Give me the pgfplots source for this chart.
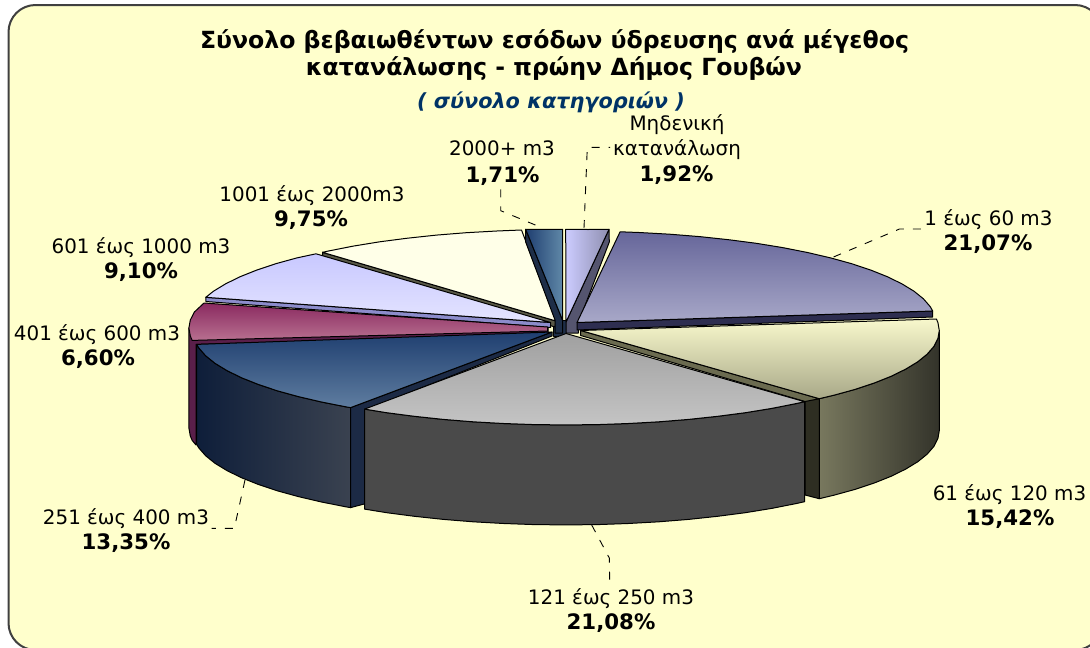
\documentclass[border=0pt]{standalone}
\usepackage{fontspec}
\setmainfont{DejaVu Sans}
\usepackage{pgfplots}
\pgfplotsset{compat=1.18}
\definecolor{bgc}{HTML}{FFFFCC}
\definecolor{subc}{HTML}{003366}
\definecolor{w6a}{HTML}{C8C8FF}\definecolor{w6b}{HTML}{E4E4FF}
\definecolor{w5a}{HTML}{8A2A60}\definecolor{w5b}{HTML}{B87090}\definecolor{w5s}{HTML}{5A1F4A}
\definecolor{w4a}{HTML}{1F3F70}\definecolor{w4b}{HTML}{5F7DA0}\definecolor{w4l}{HTML}{0E1E3A}\definecolor{w4r}{HTML}{3A4250}\definecolor{w4c}{HTML}{1C2A45}
\definecolor{w3a}{HTML}{A0A0A0}\definecolor{w3b}{HTML}{C4C4C4}\definecolor{w3s}{HTML}{4A4A4A}
\definecolor{w2a}{HTML}{F8F8CC}\definecolor{w2b}{HTML}{A8A888}\definecolor{w2l}{HTML}{78785E}\definecolor{w2r}{HTML}{33332A}\definecolor{w2c}{HTML}{6B6B50}\definecolor{w2d}{HTML}{2E2E22}
\definecolor{w1a}{HTML}{66669A}\definecolor{w1b}{HTML}{A8A8C8}\definecolor{w1s}{HTML}{2E2E50}
\definecolor{w0a}{HTML}{CCCCFF}\definecolor{w0b}{HTML}{8F8FB0}\definecolor{w0s}{HTML}{55556F}
\definecolor{w8a}{HTML}{1F3F70}\definecolor{w8b}{HTML}{6088A8}\definecolor{w8s}{HTML}{1E2E48}
\tikzset{
  w/.style={draw=black,line width=1pt,line join=round},
  lead/.style={draw=black,line width=0.9pt,dash pattern=on 8pt off 9pt},
  lab/.style={anchor=base,font=\fontsize{19.9}{22}\selectfont,inner sep=0pt},
  labb/.style={anchor=base,font=\fontsize{21.3}{22}\selectfont\bfseries,inner sep=0pt}
}
\begin{document}
\begin{tikzpicture}
\useasboundingbox (0,0) rectangle (1090pt,648pt);
\begin{axis}[at={(0,0)},anchor=south west,scale only axis,width=1090pt,height=648pt,
  xmin=0,xmax=1090,ymin=0,ymax=648,y dir=reverse,hide axis,clip=true]
% background
\addplot[draw=black!75,line width=2pt,fill=bgc,rounded corners=27pt] coordinates {(8.5,5)(1102,5)(1102,650)(8.5,650)} -- cycle;
% leaders
\addplot[lead] coordinates {(584,228)(587.3,147.3)(610,147.3)};
\addplot[lead] coordinates {(500.7,189.3)(500.7,210.7)(543.3,228.3)};
\addplot[lead] coordinates {(833.5,257)(899.5,229)(922,229)};
\addplot[lead] coordinates {(245,480)(234.3,528.3)(211.7,528.3)};
\addplot[lead] coordinates {(591.7,525)(609.3,558)(609.7,581.7)};
% centre
\addplot[w,fill=w8s] coordinates {(553,320)(566,320)(566,336)(553,336)} -- cycle;
% W7 1001-2000
\addplot[w,fill=black!65!bgc] coordinates {(322.5,252.3)(322.5,256)(555,327)(556,321)} -- cycle;
\addplot[w,fill=white!55!bgc] coordinates {(322.5,252.3)(328.5,251)(353.3,246.1)(379.7,241.8)(407.4,238.2)(436.4,235.1)(466.2,232.7)(496.7,231)(521.5,230)(556,321)} -- cycle;
% W8 2000+
\addplot[w,fill=w8s] coordinates {(525.7,229.3)(562.7,320.5)(562.7,333)(555,333)(555,320)(525.7,242)} -- cycle;
\addplot[w,left color=w8a,right color=w8b] coordinates {(525.7,229.3)(562.7,229.3)(562.7,320.5)} -- cycle;
% W0 zero consumption
\addplot[w,fill=w0s] coordinates {(609,229.3)(609.3,242)(578.3,323)(578.3,333)(566,333)(566,322)} -- cycle;
\addplot[w,left color=w0a,right color=w0b] coordinates {(565.7,229.3)(587.9,229.5)(609,229.3)(566,322)} -- cycle;
% W6 601-1000
\addplot[w,fill=black!45!blue!45!white] coordinates {(205.8,297.3)(205.8,301.5)(550.5,327.5)(550.5,322.5)} -- cycle;
\addplot[w,top color=w6a,bottom color=w6b] coordinates {(205.8,297.3)(213.5,291.2)(225.5,283.9)(239.9,276.8)(256.7,270.1)(275.8,263.7)(296.9,257.9)(316,253.8)(550.5,322.5)} -- cycle;
% W5 401-600
\addplot[w,fill=w5s] coordinates {(188.9,328)(188.9,428)(190.3,436)(192.2,440.4)(196,445)(196,344.4)(548,334)(548,328)} -- cycle;
\addplot[w,top color=w5a,bottom color=w5b] coordinates {(204,303)(194.3,312.1)(190.3,320)(188.9,328)(190.3,336)(192.2,340.4)(547.5,331)(547.5,327)} -- cycle;
% W4 251-400
\addplot[w,left color=w4l,right color=w4r] coordinates {(196.7,344.4)(198.8,347.9)(205.6,355.7)(215,363.3)(227,370.6)(241.4,377.7)(258.2,384.4)(277.3,390.8)(298.4,396.6)(321.5,402)(346.3,406.9)(350.6,407.6)(350.6,507.6)(346.3,506.9)(321.5,502)(298.4,496.6)(277.3,490.8)(258.2,484.4)(241.4,477.7)(227,470.6)(215,463.3)(205.6,455.7)(198.8,447.9)(196.7,444.4)} -- cycle;
\addplot[w,fill=w4c] coordinates {(350.6,407.6)(350.6,507.6)(368,503)(368,409)(552,336)(552,332)} -- cycle;
\addplot[w,top color=w4a,bottom color=w4b] coordinates {(196.7,344.4)(198.8,347.9)(205.6,355.7)(215,363.3)(227,370.6)(241.4,377.7)(258.2,384.4)(277.3,390.8)(298.4,396.6)(321.5,402)(346.3,406.9)(350.6,407.6)(552,332)} -- cycle;
% W1 1-60
\addplot[w,fill=w1s] coordinates {(932.7,311)(932.7,317)(577,330)(577,322.5)} -- cycle;
\addplot[w,top color=w1a,bottom color=w1b] coordinates {(620.1,231.8)(639.3,232.5)(669.8,234.2)(699.6,236.6)(728.6,239.7)(756.3,243.3)(782.7,247.6)(807.5,252.5)(830.6,257.9)(851.7,263.7)(870.8,270.1)(887.6,276.8)(902,283.9)(914,291.2)(923.4,298.8)(930.2,306.6)(932.7,311)(577,322.5)} -- cycle;
% W2 61-120
\addplot[w,left color=w2l,right color=w2r] coordinates {(939.3,330.5)(937.9,338.5)(933.9,346.4)(927.1,354.2)(917.7,361.8)(905.7,369.1)(891.3,376.2)(874.5,382.9)(855.4,389.3)(834.3,395.1)(819.3,398.7)(819.3,498.7)(834.3,495.1)(855.4,489.3)(874.5,482.9)(891.3,476.2)(905.7,469.1)(917.7,461.8)(927.1,454.2)(933.9,446.4)(937.9,438.5)(939.3,430.5)} -- cycle;
\addplot[w,fill=w2d] coordinates {(805,401)(819.3,398.7)(819.3,498.7)(805,495)} -- cycle;
\addplot[w,fill=w2c] coordinates {(580.7,330.5)(819.3,398.7)(805,401.5)(580.7,335.5)} -- cycle;
\addplot[w,top color=w2a,bottom color=w2b] coordinates {(936.4,319)(937.9,322.5)(939.3,330.5)(937.9,338.5)(933.9,346.4)(927.1,354.2)(917.7,361.8)(905.7,369.1)(891.3,376.2)(874.5,382.9)(855.4,389.3)(834.3,395.1)(819.3,398.7)(580.7,330.5)} -- cycle;
% W3 121-250
\addplot[w,fill=w3s] coordinates {(804.6,401.7)(796.5,403.5)(771.7,408.4)(745.3,412.7)(717.6,416.3)(688.6,419.4)(658.8,421.8)(628.3,423.5)(597.3,424.6)(566,424.9)(534.7,424.6)(503.7,423.5)(473.2,421.8)(443.4,419.4)(414.4,416.3)(386.7,412.7)(364.6,409.1)(364.6,509.1)(386.7,512.7)(414.4,516.3)(443.4,519.4)(473.2,521.8)(503.7,523.5)(534.7,524.6)(566,524.9)(597.3,524.6)(628.3,523.5)(658.8,521.8)(688.6,519.4)(717.6,516.3)(745.3,512.7)(771.7,508.4)(796.5,503.5)(804.6,501.7)} -- cycle;
\addplot[w,top color=w3a,bottom color=w3b] coordinates {(804.6,401.7)(796.5,403.5)(771.7,408.4)(745.3,412.7)(717.6,416.3)(688.6,419.4)(658.8,421.8)(628.3,423.5)(597.3,424.6)(566,424.9)(534.7,424.6)(503.7,423.5)(473.2,421.8)(443.4,419.4)(414.4,416.3)(386.7,412.7)(364.6,409.1)(566,333.5)} -- cycle;
% texts
\node[anchor=base,inner sep=0pt,font=\fontsize{23.6}{24}\selectfont\bfseries] at (axis cs:554.5,48) {Σύνολο βεβαιωθέντων εσόδων ύδρευσης ανά μέγεθος};
\node[anchor=base,inner sep=0pt,font=\fontsize{23.6}{24}\selectfont\bfseries] at (axis cs:554,75) {κατανάλωσης - πρώην Δήμος Γουβών};
\node[anchor=base,inner sep=0pt,font=\fontsize{20.8}{24}\selectfont\bfseries\itshape,text=subc] at (axis cs:551,108) {( σύνολο κατηγοριών )};
\node[lab] at (axis cs:677,130) {Μηδενική};
\node[lab] at (axis cs:677,155) {κατανάλωση};
\node[labb] at (axis cs:676.5,181) {1,92\%};
\node[lab] at (axis cs:502,155) {2000+ m3};
\node[labb] at (axis cs:502.5,182) {1,71\%};
\node[lab] at (axis cs:312,201) {1001 έως 2000m3};
\node[labb] at (axis cs:311,226) {9,75\%};
\node[lab] at (axis cs:988.5,225) {1 έως 60 m3};
\node[labb] at (axis cs:988,250) {21,07\%};
\node[lab] at (axis cs:141,253) {601 έως 1000 m3};
\node[labb] at (axis cs:141,278) {9,10\%};
\node[lab] at (axis cs:97,340) {401 έως 600 m3};
\node[labb] at (axis cs:98,365) {6,60\%};
\node[lab] at (axis cs:1009.5,500) {61 έως 120 m3};
\node[labb] at (axis cs:1010,525) {15,42\%};
\node[lab] at (axis cs:126,524) {251 έως 400 m3};
\node[labb] at (axis cs:126,549) {13,35\%};
\node[lab] at (axis cs:611,604) {121 έως 250 m3};
\node[labb] at (axis cs:611,629) {21,08\%};
\end{axis}
\end{tikzpicture}
\end{document}
